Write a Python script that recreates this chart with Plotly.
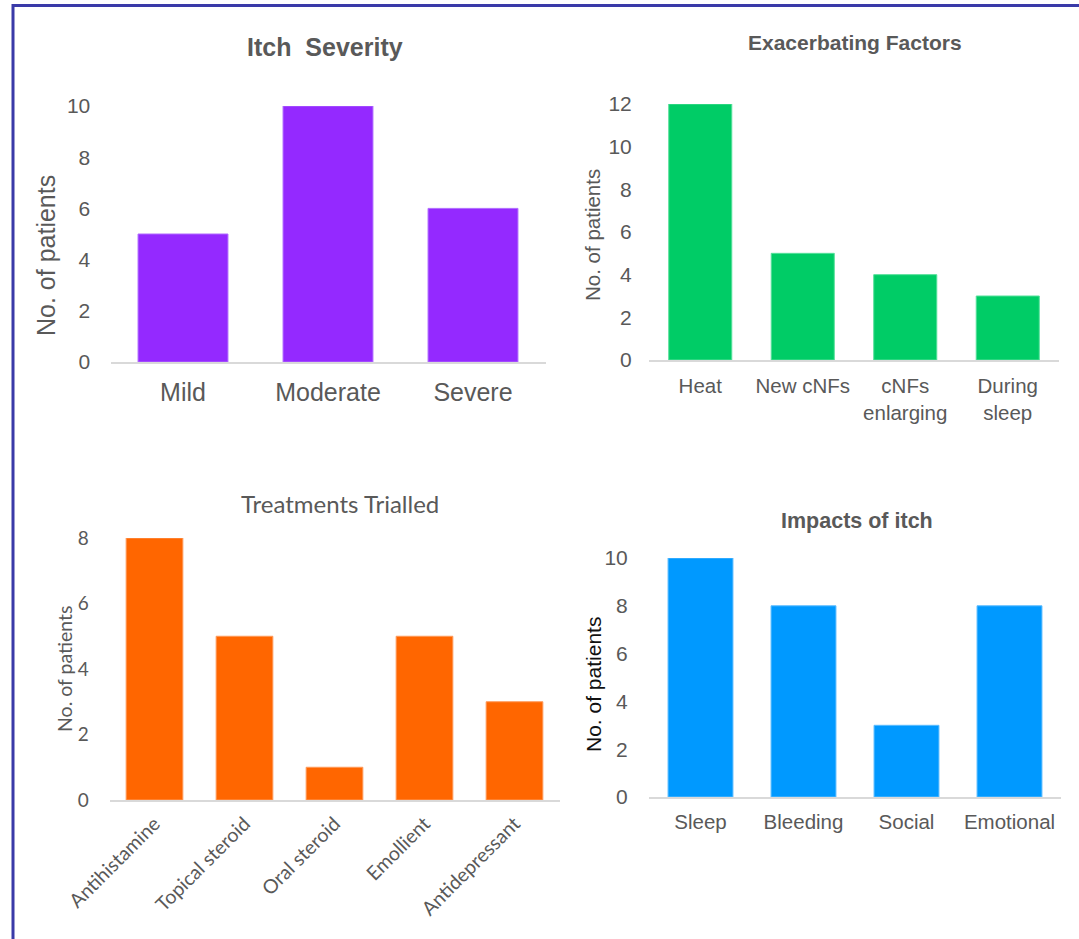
import plotly.graph_objects as go

W, H = 1079, 939

# ---- data ----
severity_cats = ["Mild", "Moderate", "Severe"]
severity_vals = [5, 10, 6]

factor_cats = ["Heat", "New cNFs", "cNFs<br>enlarging", "During<br>sleep"]
factor_vals = [12, 5, 4, 3]

treatment_cats = ["Antihistamine", "Topical steroid", "Oral steroid", "Emollient", "Antidepressant"]
treatment_vals = [8, 5, 1, 5, 3]

impact_cats = ["Sleep", "Bleeding", "Social", "Emotional"]
impact_vals = [10, 8, 3, 8]


def px(x):
    return x / W


def py(y):
    return 1 - y / H


ARIAL = "Liberation Sans, Arial, sans-serif"
CALIBRI = "Lato, Open Sans, sans-serif"
GREY = "#595959"
AXIS_GREY = "#d9d9d9"

fig = go.Figure()

panels = [
    dict(cats=severity_cats, vals=severity_vals, color="#9429ff", edge="#b06bff",
         x=(110.5, 545.5), y=(106, 362), ymax=10, font=ARIAL, ytick=21, xtick=25,
         ylen=15, xlen=7, width=0.62),
    dict(cats=factor_cats, vals=factor_vals, color="#00cc66", edge="#55e09a",
         x=(649, 1059), y=(104, 360), ymax=12, font=ARIAL, ytick=21, xtick=20.5,
         ylen=12, xlen=7, width=0.615),
    dict(cats=treatment_cats, vals=treatment_vals, color="#ff6600", edge="#ff9a5a",
         x=(109.5, 559.5), y=(538, 800), ymax=8, font=CALIBRI, ytick=19, xtick=19.5,
         ylen=16, xlen=3, width=0.63),
    dict(cats=impact_cats, vals=impact_vals, color="#0099ff", edge="#5cbcff",
         x=(649, 1061), y=(558, 797), ymax=10, font=ARIAL, ytick=21, xtick=20.5,
         ylen=16, xlen=6, width=0.63),
]

layout_axes = {}
for i, p in enumerate(panels, start=1):
    xa = "x" if i == 1 else f"x{i}"
    ya = "y" if i == 1 else f"y{i}"
    fig.add_trace(go.Bar(
        x=p["cats"], y=p["vals"], xaxis=xa, yaxis=ya,
        marker=dict(color=p["color"], line=dict(color=p["edge"], width=1)),
        width=p["width"], showlegend=False, hoverinfo="x+y",
    ))
    xkey = "xaxis" if i == 1 else f"xaxis{i}"
    ykey = "yaxis" if i == 1 else f"yaxis{i}"
    layout_axes[xkey] = dict(
        domain=[px(p["x"][0]), px(p["x"][1])], anchor=ya, automargin=False,
        type="category", range=[-0.5, len(p["cats"]) - 0.5],
        showgrid=False, zeroline=False, showline=True, linecolor=AXIS_GREY, linewidth=1.5,
        ticks="outside", ticklen=p["xlen"], tickcolor="rgba(0,0,0,0)",
        tickangle=-45 if i == 3 else 0,
        tickfont=dict(family=p["font"], size=p["xtick"], color=GREY),
        fixedrange=True,
    )
    layout_axes[ykey] = dict(
        domain=[py(p["y"][1]), py(p["y"][0])], anchor=xa, automargin=False,
        range=[0, p["ymax"]], dtick=2,
        showgrid=False, zeroline=False, showline=False,
        ticks="outside", ticklen=p["ylen"], tickcolor="rgba(0,0,0,0)",
        tickfont=dict(family=p["font"], size=p["ytick"], color=GREY),
        fixedrange=True,
    )

annotations = [
    # panel titles
    dict(text="<b>Itch  Severity</b>", x=px(325), y=py(47), font=dict(family=ARIAL, size=25, color=GREY)),
    dict(text="<b>Exacerbating Factors</b>", x=px(855), y=py(42), font=dict(family=ARIAL, size=21, color=GREY)),
    dict(text="Treatments Trialled", x=px(340), y=py(503), font=dict(family=CALIBRI, size=24, color=GREY)),
    dict(text="<b>Impacts of itch</b>", x=px(857), y=py(521), font=dict(family=ARIAL, size=21.5, color=GREY)),
    # y-axis titles
    dict(text="No. of patients", x=px(46), y=py(256), textangle=-90,
         font=dict(family=ARIAL, size=25, color=GREY)),
    dict(text="No. of patients", x=px(593), y=py(235), textangle=-90,
         font=dict(family=ARIAL, size=20.5, color=GREY)),
    dict(text="No. of patients", x=px(64), y=py(669), textangle=-90,
         font=dict(family=CALIBRI, size=19.5, color=GREY)),
    dict(text="No. of patients", x=px(593), y=py(685), textangle=-90,
         font=dict(family=ARIAL, size=21, color="#111111")),
]
for a in annotations:
    a.update(xref="paper", yref="paper", xanchor="center", yanchor="middle", showarrow=False)

# frame lines along top and left edges
shapes = [
    dict(type="line", xref="paper", yref="paper", x0=px(12), x1=1, y0=py(5.5), y1=py(5.5),
         line=dict(color="#3a3aa8", width=3)),
    dict(type="line", xref="paper", yref="paper", x0=px(13), x1=px(13), y0=py(4), y1=0,
         line=dict(color="#3a3aa8", width=3)),
]

fig.update_layout(
    width=W, height=H,
    margin=dict(l=0, r=0, t=0, b=0),
    paper_bgcolor="white", plot_bgcolor="white",
    annotations=annotations, shapes=shapes,
    **layout_axes,
)

fig.write_html("out.html", config={"displayModeBar": False})
